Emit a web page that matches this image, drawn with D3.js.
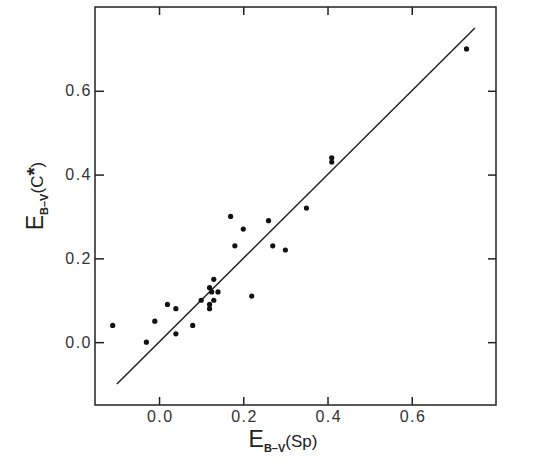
<!DOCTYPE html>
<html lang="en">
<head>
    <meta charset="UTF-8">
    <title>E(B-V) Sp vs C*</title>
    <script src="https://d3js.org/d3.v7.min.js"></script>
    <style>
        body { margin: 0; background: white; }
        .tick text {
            font-family: "Liberation Sans", Arial, sans-serif;
            font-size: 16px;
            letter-spacing: 1.5px;
            fill: #333;
        }
        .axis-label {
            font-family: "Liberation Sans", Arial, sans-serif;
            fill: #222;
        }
    </style>
</head>
<body>
    <div id="chart"></div>
    <script>
        // E(B-V) from spectra (x) and from C* (y)
        const ebvSp = [-0.11, -0.03, -0.01, 0.02, 0.04, 0.04, 0.08, 0.10, 0.12, 0.12, 0.12, 0.125, 0.13, 0.13, 0.14,
                       0.17, 0.18, 0.20, 0.22, 0.26, 0.27, 0.30, 0.35, 0.41, 0.41, 0.73];
        const ebvC = [0.04, 0.00, 0.05, 0.09, 0.08, 0.02, 0.04, 0.10, 0.09, 0.08, 0.13, 0.12, 0.15, 0.10, 0.12,
                      0.30, 0.23, 0.27, 0.11, 0.29, 0.23, 0.22, 0.32, 0.44, 0.43, 0.70];

        // one-to-one line
        const lineX = [-0.10, 0.75];
        const lineY = [-0.10, 0.75];

        const tickValues = [0.0, 0.2, 0.4, 0.6];

        const margin = { top: 7, right: 64, bottom: 66, left: 95 };
        const width = 560 - margin.left - margin.right;
        const height = 471 - margin.top - margin.bottom;

        const svg = d3.select("#chart")
            .append("svg")
            .attr("width", 560)
            .attr("height", 471)
            .append("g")
            .attr("transform", `translate(${margin.left},${margin.top})`);

        const x = d3.scaleLinear()
            .domain([-0.152, 0.8])
            .range([0, width]);

        const y = d3.scaleLinear()
            .domain([-0.15, 0.8])
            .range([height, 0]);

        const fmt = d3.format(".1f");

        // axes with inward ticks
        svg.append("g")
            .attr("transform", `translate(0,${height})`)
            .call(d3.axisBottom(x).tickValues(tickValues).tickFormat(fmt)
                .tickSizeInner(-8).tickSizeOuter(0).tickPadding(6))
            .call(g => g.select(".domain").remove())
            .selectAll("text").attr("dx", "0.75");

        svg.append("g")
            .call(d3.axisTop(x).tickValues(tickValues).tickFormat("")
                .tickSizeInner(-8).tickSizeOuter(0))
            .call(g => g.select(".domain").remove());

        svg.append("g")
            .call(d3.axisLeft(y).tickValues(tickValues).tickFormat(fmt)
                .tickSizeInner(-9).tickSizeOuter(0).tickPadding(3))
            .call(g => g.select(".domain").remove());

        svg.append("g")
            .attr("transform", `translate(${width},0)`)
            .call(d3.axisRight(y).tickValues(tickValues).tickFormat("")
                .tickSizeInner(-8).tickSizeOuter(0))
            .call(g => g.select(".domain").remove());

        svg.selectAll(".tick line")
            .attr("stroke", "#222")
            .attr("stroke-width", 1.5);

        // frame
        svg.append("rect")
            .attr("width", width)
            .attr("height", height)
            .attr("fill", "none")
            .attr("stroke", "#222")
            .attr("stroke-width", 1.5);

        // fit line
        svg.append("line")
            .attr("x1", x(lineX[0]))
            .attr("y1", y(lineY[0]))
            .attr("x2", x(lineX[1]))
            .attr("y2", y(lineY[1]))
            .attr("stroke", "#222")
            .attr("stroke-width", 1.5);

        // points
        svg.append("g")
            .selectAll("circle")
            .data(ebvSp)
            .join("circle")
            .attr("cx", d => x(d))
            .attr("cy", (d, i) => y(ebvC[i]))
            .attr("r", 2.6)
            .attr("fill", "#111");

        // X axis label
        const xl = svg.append("text")
            .attr("class", "axis-label")
            .attr("x", 188)
            .attr("y", height + 42)
            .attr("text-anchor", "middle");
        xl.append("tspan").attr("font-size", "23px").text("E");
        xl.append("tspan").attr("font-size", "11px").attr("font-weight", "bold").attr("dy", 5).text("B\u2013V");
        xl.append("tspan").attr("font-size", "17px").attr("dy", -5).text("(Sp)");

        // Y axis label
        const yl = svg.append("text")
            .attr("class", "axis-label")
            .attr("transform", "rotate(-90)")
            .attr("x", -(196 - margin.top))
            .attr("y", 43 - margin.left)
            .attr("text-anchor", "middle");
        yl.append("tspan").attr("font-size", "23px").text("E");
        yl.append("tspan").attr("font-size", "11px").attr("font-weight", "bold").attr("dy", 5).text("B\u2013V");
        yl.append("tspan").attr("font-size", "17px").attr("dy", -5).text("(C");
        yl.append("tspan").attr("font-size", "21px").attr("font-weight", "bold").attr("dy", -2).text("*");
        yl.append("tspan").attr("font-size", "17px").attr("dy", 2).text(")");
    </script>
</body>
</html>
